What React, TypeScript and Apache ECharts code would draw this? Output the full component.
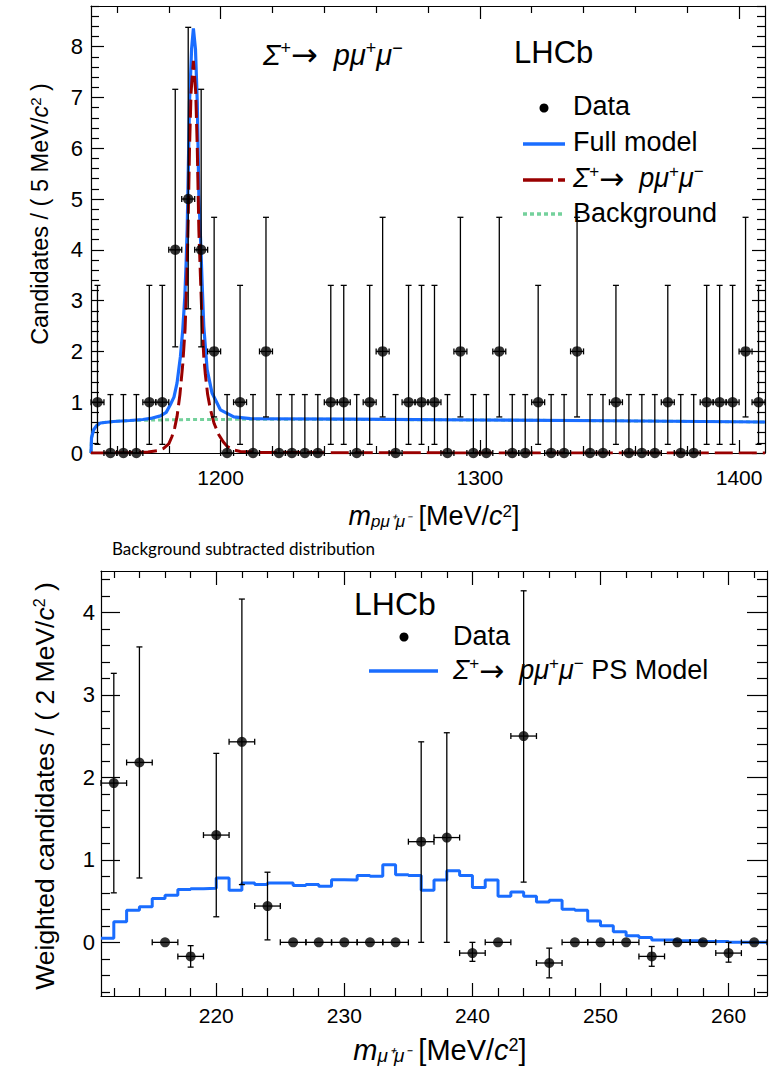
import React, { useEffect, useRef } from "react";
import * as echarts from "echarts";

// ---------------- Top panel: m(p mu+ mu-) ----------------
const topBinCenters = [
  1152.5, 1157.5, 1162.5, 1167.5, 1172.5, 1177.5, 1182.5, 1187.5, 1192.5, 1197.5,
  1202.5, 1207.5, 1212.5, 1217.5, 1222.5, 1227.5, 1232.5, 1237.5, 1242.5, 1247.5,
  1252.5, 1257.5, 1262.5, 1267.5, 1272.5, 1277.5, 1282.5, 1287.5, 1292.5, 1297.5,
  1302.5, 1307.5, 1312.5, 1317.5, 1322.5, 1327.5, 1332.5, 1337.5, 1342.5, 1347.5,
  1352.5, 1357.5, 1362.5, 1367.5, 1372.5, 1377.5, 1382.5, 1387.5, 1392.5, 1397.5,
  1402.5, 1407.5,
];
const topCounts = [
  1, 0, 0, 0, 1, 1, 4, 5, 4, 2,
  0, 1, 0, 2, 0, 0, 0, 0, 1, 1,
  0, 1, 2, 0, 1, 1, 1, 0, 2, 0,
  0, 2, 0, 0, 1, 0, 0, 2, 0, 0,
  1, 0, 0, 0, 1, 0, 0, 1, 1, 1,
  2, 1,
];
// Poisson 68% interval bounds, indexed by count
const poissonLow = [0, 0.17, 0.71, 1.37, 2.09, 2.84];
const poissonHigh = [1.15, 3.3, 4.64, 5.92, 7.16, 8.38];
const topBinHalfWidth = 2.5;

const fullModelMass = [
  1150, 1150.2, 1151, 1152, 1153.6, 1158.7, 1165, 1170, 1173, 1176.8, 1179, 1180.6,
  1182, 1183.2, 1184.5, 1185.4, 1186.2, 1186.7, 1187.1, 1187.4, 1188.0, 1188.8,
  1189.5, 1190.3, 1191.0, 1191.6, 1192.2, 1192.9, 1193.5, 1194.8, 1196.7, 1199.9,
  1205.1, 1211.5, 1250, 1300, 1350, 1410,
];
const fullModelValue = [
  0, 0.3, 0.455, 0.53, 0.59, 0.62, 0.64, 0.66, 0.68, 0.73, 0.8, 0.95,
  1.1, 1.38, 1.9, 2.43, 3.09, 3.75, 4.41, 5.2, 6.9, 7.95,
  8.36, 7.95, 6.9, 5.1, 4.3, 3.3, 2.5, 1.64, 1.18, 0.85,
  0.71, 0.675, 0.667, 0.65, 0.635, 0.61,
];
const signalMass = [
  1150, 1165, 1172, 1176, 1178, 1180, 1181.2, 1182.3, 1183.2, 1184.3, 1185.4, 1186.3,
  1187.0, 1187.5, 1188.0, 1188.6, 1189.5, 1190.4, 1191.0, 1191.6, 1192.2, 1192.9,
  1193.5, 1194.1, 1195, 1196.1, 1197.5, 1199.3, 1201, 1202.5, 1205, 1207.6, 1215,
  1250, 1300, 1410,
];
const signalValue = [
  0, 0.005, 0.02, 0.05, 0.09, 0.18, 0.32, 0.5, 0.72, 1.15, 1.75, 2.45,
  3.5, 4.6, 6.0, 7.1, 7.72, 7.1, 6.0, 4.4, 3.5, 2.5,
  1.9, 1.55, 1.15, 0.85, 0.58, 0.36, 0.22, 0.13, 0.06, 0.03, 0.012,
  0.004, 0.002, 0,
];
const bkgMass = [1150, 1150.2, 1151, 1152, 1153.6, 1158.7, 1165, 1175, 1190, 1220, 1260, 1300, 1350, 1410];
const bkgValue = [0, 0.3, 0.455, 0.53, 0.59, 0.62, 0.64, 0.65, 0.66, 0.665, 0.66, 0.65, 0.635, 0.61];

const topXMajor = [1200, 1300, 1400];
const topXMinor = [1160, 1180, 1220, 1240, 1260, 1280, 1320, 1340, 1360, 1380];
const topYMajor = [0, 1, 2, 3, 4, 5, 6, 7, 8];

// ---------------- Bottom panel: m(mu+ mu-) ----------------
const dimuonCenters = [
  212, 214, 216, 218, 220, 222, 224, 226, 228, 230, 232, 234, 236,
  238, 240, 242, 244, 246, 248, 250, 252, 254, 256, 258, 260, 262,
];
const weightedValues = [
  1.93, 2.18, 0, -0.17, 1.3, 2.43, 0.44, 0, 0, 0, 0, 0, 1.22,
  1.27, -0.13, 0, 2.5, -0.25, 0, 0, 0, -0.17, 0, 0, -0.13, 0,
];
const weightedErrLow = [
  0.6, 0.78, 0, -0.3, 0.31, 0.7, 0.03, 0, 0, 0, 0, 0, 0.0,
  0.0, -0.23, 0, 0.73, -0.43, 0, 0, 0, -0.29, 0, 0, -0.24, 0,
];
const weightedErrHigh = [
  3.26, 3.58, 0, -0.04, 2.29, 4.16, 0.85, 0, 0, 0, 0, 0, 2.43,
  2.54, 0.0, 0, 4.26, -0.07, 0, 0, 0, -0.05, 0, 0, 0.0, 0,
];
const dimuonBinHalfWidth = 1;

const psModelEdges = [
  211, 212, 213, 214, 215, 216, 217, 218, 219, 220, 221, 222, 223, 224, 225, 226, 227,
  228, 229, 230, 231, 232, 233, 234, 235, 236, 237, 238, 239, 240, 241, 242, 243, 244,
  245, 246, 247, 248, 249, 250, 251, 252, 253, 254, 255, 256, 257, 258, 259, 260, 261,
  262, 263,
];
const psModelValues = [
  0.05, 0.25, 0.39, 0.43, 0.53, 0.57, 0.64, 0.65, 0.655, 0.78, 0.63, 0.72, 0.7, 0.72,
  0.72, 0.69, 0.7, 0.68, 0.76, 0.755, 0.81, 0.8, 0.94, 0.82, 0.81, 0.63, 0.755, 0.867,
  0.81, 0.665, 0.755, 0.56, 0.61, 0.56, 0.49, 0.51, 0.4, 0.39, 0.26, 0.2, 0.13, 0.08,
  0.06, 0.03, 0.03, 0.02, 0.02, 0.01, 0.01, 0.0, 0.0, 0.0,
];

const botXMajor = [220, 230, 240, 250, 260];
const botYMajor = [0, 1, 2, 3, 4];

// ---------------- styling ----------------
const BLUE = "#1a6dff";
const RED = "#990000";
const GREEN = "#74d19c";
const FONT = "'Liberation Sans', Arial, Helvetica, sans-serif";

function minorTicks(from: number, to: number, step: number, majorStep: number): number[] {
  const out: number[] = [];
  const n = Math.round((to - from) / step);
  for (let i = 0; i <= n; i++) {
    const v = Math.round((from + i * step) * 1000) / 1000;
    const r = v / majorStep;
    if (Math.abs(r - Math.round(r)) > 1e-6) out.push(v);
  }
  return out;
}

function axisSet(
  dim: "x" | "y",
  gridIndex: number,
  min: number,
  max: number,
  major: number[],
  minor: number[],
  majorLen: [number, number],
  minorLen: [number, number],
  labelMargin: number,
  labelSize: number
) {
  const pos = dim === "x" ? ["bottom", "bottom", "top", "top"] : ["left", "left", "right", "right"];
  const mk = (i: number, ticks: number[], len: number, withLabel: boolean, withLine: boolean) => ({
    type: "value",
    gridIndex,
    min,
    max,
    position: pos[i],
    axisLine: { show: withLine, onZero: false, lineStyle: { color: "#000", width: 1.2 } },
    axisTick: {
      show: true,
      inside: true,
      length: len,
      customValues: ticks,
      lineStyle: { color: "#000", width: 1.2 },
    },
    axisLabel: withLabel
      ? {
          show: true,
          customValues: major,
          formatter: (v: number) => String(v),
          color: "#000",
          fontFamily: FONT,
          fontSize: labelSize,
          margin: labelMargin,
        }
      : { show: false },
    splitLine: { show: false },
    minorTick: { show: false },
  });
  return [
    mk(0, major, majorLen[0], true, true),
    mk(1, minor, minorLen[0], false, false),
    mk(2, major, majorLen[1], false, true),
    mk(3, minor, minorLen[1], false, false),
  ];
}

function errorBarRenderer(cap: number) {
  return (_params: any, api: any) => {
    const x = api.value(0);
    const y = api.value(1);
    const lo = api.value(2);
    const hi = api.value(3);
    const hw = api.value(4);
    const c = api.coord([x, y]);
    const pLo = api.coord([x, lo]);
    const pHi = api.coord([x, hi]);
    const pL = api.coord([x - hw, y]);
    const pR = api.coord([x + hw, y]);
    const st = { stroke: "#000", lineWidth: 1.3, fill: null };
    const ch: any[] = [
      { type: "line", shape: { x1: pL[0], y1: c[1], x2: pR[0], y2: c[1] }, style: st },
      { type: "line", shape: { x1: pL[0], y1: c[1] - cap, x2: pL[0], y2: c[1] + cap }, style: st },
      { type: "line", shape: { x1: pR[0], y1: c[1] - cap, x2: pR[0], y2: c[1] + cap }, style: st },
    ];
    if (hi - lo > 1e-9) {
      ch.push({ type: "line", shape: { x1: c[0], y1: pLo[1], x2: c[0], y2: pHi[1] }, style: st });
      ch.push({ type: "line", shape: { x1: c[0] - cap, y1: pLo[1], x2: c[0] + cap, y2: pLo[1] }, style: st });
      ch.push({ type: "line", shape: { x1: c[0] - cap, y1: pHi[1], x2: c[0] + cap, y2: pHi[1] }, style: st });
    }
    return { type: "group", children: ch };
  };
}

function richStyles(fs: number) {
  return {
    n: { fontSize: fs, fontFamily: FONT, fill: "#000" },
    i: { fontSize: fs, fontFamily: FONT, fontStyle: "italic", fill: "#000" },
    arr: { fontSize: Math.round(fs * 1.1), fontFamily: "'DejaVu Sans', sans-serif", fill: "#000" },
    sup: { fontSize: Math.round(fs * 0.62), fontFamily: FONT, fill: "#000", verticalAlign: "top" },
    sub: { fontSize: Math.round(fs * 0.64), fontFamily: FONT, fontStyle: "italic", fill: "#000", verticalAlign: "bottom" },
  };
}

function txt(x: number, y: number, text: string, fs: number, align: string, extra: any = {}) {
  return {
    type: "text",
    x,
    y,
    z: 100,
    ...extra,
    style: {
      text,
      fill: "#000",
      fontSize: fs,
      fontFamily: FONT,
      align,
      verticalAlign: "middle",
      rich: richStyles(fs),
    },
  };
}

const SIGMA_DECAY = "{i|Σ}{sup|+}{arr|→}{n|  }{i|pμ}{sup|+}{i|μ}{sup|−}";

function buildOption() {
  const topData = topBinCenters.map((m, k) => [m, topCounts[k]]);
  const topErr = topBinCenters.map((m, k) => [
    m,
    topCounts[k],
    poissonLow[topCounts[k]],
    poissonHigh[topCounts[k]],
    topBinHalfWidth,
  ]);
  const botData = dimuonCenters.map((m, k) => [m, weightedValues[k]]);
  const botErr = dimuonCenters.map((m, k) => [
    m,
    weightedValues[k],
    weightedErrLow[k] === 0 && weightedErrHigh[k] === 0 ? weightedValues[k] : weightedErrLow[k],
    weightedErrLow[k] === 0 && weightedErrHigh[k] === 0 ? weightedValues[k] : weightedErrHigh[k],
    dimuonBinHalfWidth,
  ]);
  const psData = psModelEdges.map((e, k) => [e, psModelValues[Math.min(k, psModelValues.length - 1)]]);

  const xAxes = [
    ...axisSet("x", 0, 1150, 1410, topXMajor, topXMinor, [13, 13], [7, 7], 14, 21),
    ...axisSet("x", 1, 211, 263, botXMajor, minorTicks(212, 262, 2, 10), [13, 14], [8, 7], 9, 21),
  ];
  const yAxes = [
    ...axisSet("y", 0, 0, 8.8, topYMajor, minorTicks(0, 8.8, 0.2, 1), [13, 13], [8, 8], 8, 22),
    ...axisSet("y", 1, -0.65, 4.5, botYMajor, minorTicks(-0.6, 4.4, 0.2, 1), [19, 20], [9, 10], 6, 22),
  ];

  return {
    animation: false,
    backgroundColor: "#fff",
    grid: [
      { left: 91, top: 6, width: 674, height: 447, containLabel: false },
      { left: 101, top: 571, width: 666, height: 425, containLabel: false },
    ],
    xAxis: xAxes,
    yAxis: yAxes,
    series: [
      {
        name: "Background",
        type: "line",
        xAxisIndex: 0,
        yAxisIndex: 0,
        data: bkgMass.map((m, k) => [m, bkgValue[k]]),
        showSymbol: false,
        symbol: "none",
        lineStyle: { color: GREEN, width: 3, type: [4, 3] },
        z: 2,
      },
      {
        name: "Full model",
        type: "line",
        xAxisIndex: 0,
        yAxisIndex: 0,
        data: fullModelMass.map((m, k) => [m, fullModelValue[k]]),
        showSymbol: false,
        symbol: "none",
        lineStyle: { color: BLUE, width: 3.2 },
        z: 3,
      },
      {
        name: "Σ+→ pμ+μ−",
        type: "line",
        xAxisIndex: 0,
        yAxisIndex: 0,
        data: signalMass.map((m, k) => [m, signalValue[k]]),
        showSymbol: false,
        symbol: "none",
        lineStyle: { color: RED, width: 3, type: [18, 6] },
        z: 4,
      },
      {
        name: "Data errors",
        type: "custom",
        xAxisIndex: 0,
        yAxisIndex: 0,
        data: topErr,
        encode: { x: 0, y: 1 },
        renderItem: errorBarRenderer(3),
        z: 5,
        silent: true,
      },
      {
        name: "Data",
        type: "scatter",
        xAxisIndex: 0,
        yAxisIndex: 0,
        data: topData,
        symbol: "circle",
        symbolSize: 10.5,
        itemStyle: { color: "#000" },
        clip: false,
        z: 6,
      },
      {
        name: "PS Model",
        type: "line",
        xAxisIndex: 4,
        yAxisIndex: 4,
        data: psData,
        step: "end",
        showSymbol: false,
        symbol: "none",
        lineStyle: { color: BLUE, width: 3 },
        z: 3,
      },
      {
        name: "Weighted errors",
        type: "custom",
        xAxisIndex: 4,
        yAxisIndex: 4,
        data: botErr,
        encode: { x: 0, y: 1 },
        renderItem: errorBarRenderer(3),
        z: 5,
        silent: true,
      },
      {
        name: "Weighted data",
        type: "scatter",
        xAxisIndex: 4,
        yAxisIndex: 4,
        data: botData,
        symbol: "circle",
        symbolSize: 10,
        itemStyle: { color: "#000" },
        clip: false,
        z: 6,
      },
    ],
    graphic: [
      // top panel annotations
      txt(263, 55, SIGMA_DECAY, 29, "left"),
      txt(514, 52, "LHCb", 31, "left"),
      { type: "circle", z: 100, shape: { cx: 544, cy: 108, r: 4.5 }, style: { fill: "#000" } },
      txt(573, 106, "Data", 27, "left"),
      { type: "line", z: 100, shape: { x1: 523, y1: 144, x2: 565, y2: 144 }, style: { stroke: BLUE, lineWidth: 3.5 } },
      txt(573, 142, "Full model", 27, "left"),
      { type: "line", z: 100, shape: { x1: 523, y1: 180, x2: 565, y2: 180 }, style: { stroke: RED, lineWidth: 3.5, lineDash: [30, 5, 7, 5] } },
      txt(573, 178, SIGMA_DECAY, 27, "left"),
      { type: "line", z: 100, shape: { x1: 523, y1: 214, x2: 565, y2: 214 }, style: { stroke: GREEN, lineWidth: 3.5, lineDash: [4, 3] } },
      txt(573, 213, "Background", 27, "left"),
      txt(40, 214, "Candidates / ( 5 MeV/{i|c}{sup|2} )", 23.5, "center", { rotation: Math.PI / 2 }),
      txt(434, 516, "{i|m}{sub|pμ⁺μ⁻}{n| [MeV/}{i|c}{sup|2}{n|]}", 27, "center"),
      // bottom panel annotations
      {
        type: "text",
        x: 112,
        y: 548,
        z: 100,
        style: {
          text: "Background subtracted distribution",
          fill: "#000",
          fontSize: 17,
          fontFamily: "Lato, 'Open Sans', sans-serif",
          align: "left",
          verticalAlign: "middle",
        },
      },
      txt(354, 604, "LHCb", 32, "left"),
      { type: "circle", z: 100, shape: { cx: 404, cy: 637, r: 4.5 }, style: { fill: "#000" } },
      txt(453, 636, "Data", 27, "left"),
      { type: "line", z: 100, shape: { x1: 369, y1: 671, x2: 438, y2: 671 }, style: { stroke: BLUE, lineWidth: 3.5 } },
      txt(453, 670, SIGMA_DECAY + "{n| PS Model}", 27, "left"),
      txt(45, 786, "Weighted candidates / ( 2 MeV/{i|c}{sup|2} )", 26.5, "center", { rotation: Math.PI / 2 }),
      txt(440, 1050, "{i|m}{sub|μ⁺μ⁻}{n| [MeV/}{i|c}{sup|2}{n|]}", 29, "center"),
    ],
  };
}

export default function App() {
  const ref = useRef<HTMLDivElement>(null);
  useEffect(() => {
    if (!ref.current) return;
    const chart = echarts.init(ref.current, null, { renderer: "svg" });
    chart.setOption(buildOption() as any);
    return () => chart.dispose();
  }, []);
  return (
    <div
      ref={ref}
      style={{ position: "absolute", left: 0, top: 0, width: 782, height: 1079, background: "#fff" }}
    />
  );
}
